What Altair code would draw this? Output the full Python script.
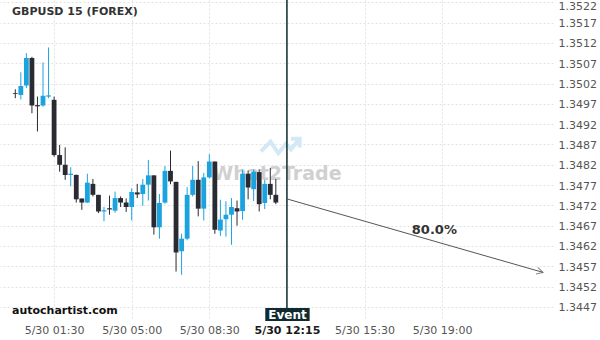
import altair as alt
import pandas as pd

# ---- data ----
idx = list(range(-7, 41))
opens = [1.34997, 1.34992, 1.35015, 1.35083, 1.34967, 1.34966, 1.34988, 1.34980,
         1.34844, 1.34820, 1.34795, 1.34795, 1.34737, 1.34727, 1.34773, 1.34746,
         1.34705, 1.34713, 1.34707, 1.34738, 1.34727, 1.34716, 1.34752, 1.34748,
         1.34771, 1.34794, 1.34666, 1.34727, 1.34805, 1.34778, 1.34607, 1.34638,
         1.34746, 1.34783, 1.34712, 1.34789, 1.34828, 1.34658, 1.34686, 1.34697,
         1.34713, 1.34706, 1.34798, 1.34760, 1.34802, 1.34726, 1.34773, 1.34746]
highs = [1.35006, 1.35048, 1.35095, 1.35086, 1.34988, 1.35072, 1.35109, 1.34988,
         1.34869, 1.34863, 1.34814, 1.34796, 1.34737, 1.34798, 1.34785, 1.34746,
         1.34716, 1.34744, 1.34754, 1.34742, 1.34737, 1.34762, 1.34773, 1.34785,
         1.34832, 1.34794, 1.34748, 1.34817, 1.34855, 1.34778, 1.34650, 1.34765,
         1.34817, 1.34829, 1.34800, 1.34846, 1.34828, 1.34734, 1.34730, 1.34738,
         1.34732, 1.34808, 1.34806, 1.34809, 1.34809, 1.34783, 1.34812, 1.34785]
lows = [1.34984, 1.34981, 1.35009, 1.34947, 1.34902, 1.34963, 1.34984, 1.34840,
        1.34803, 1.34783, 1.34767, 1.34727, 1.34709, 1.34726, 1.34742, 1.34701,
        1.34681, 1.34697, 1.34702, 1.34716, 1.34704, 1.34683, 1.34738, 1.34719,
        1.34732, 1.34648, 1.34638, 1.34724, 1.34772, 1.34557, 1.34549, 1.34634,
        1.34742, 1.34693, 1.34683, 1.34786, 1.34650, 1.34645, 1.34643, 1.34623,
        1.34670, 1.34685, 1.34735, 1.34731, 1.34705, 1.34711, 1.34735, 1.34723]
closes = [1.34995, 1.35014, 1.35083, 1.34966, 1.34964, 1.34990, 1.34991, 1.34844,
          1.34820, 1.34795, 1.34798, 1.34735, 1.34727, 1.34776, 1.34746, 1.34705,
          1.34708, 1.34710, 1.34738, 1.34727, 1.34716, 1.34753, 1.34747, 1.34771,
          1.34794, 1.34666, 1.34726, 1.34805, 1.34779, 1.34604, 1.34638, 1.34746,
          1.34783, 1.34712, 1.34789, 1.34828, 1.34660, 1.34685, 1.34697, 1.34716,
          1.34705, 1.34798, 1.34764, 1.34803, 1.34723, 1.34773, 1.34746, 1.34727]

tick_vals = [0, 14, 28, 42, 56, 70]
tick_labels = ["5/30 01:30", "5/30 05:00", "5/30 08:30", "5/30 12:15", "5/30 15:30", "5/30 19:00"]
y_ticks = [1.3447, 1.3452, 1.3457, 1.3462, 1.3467, 1.3472, 1.3477, 1.3482,
           1.3487, 1.3492, 1.3497, 1.3502, 1.3507, 1.3512, 1.3517, 1.3522]

event_x = 42
arrow_x = [42, 88.2]
arrow_y = [1.34736, 1.34555]
pct_x, pct_y, pct_text = 68.6, 1.3466, "80.0%"

BLUE = "#1ba3df"
DARK = "#2a2a33"
EVENT = "#0f2b30"

df = pd.DataFrame({"i": idx, "o": opens, "h": highs, "l": lows, "c": closes})
df["dir"] = ["up" if c > o else "down" for o, c in zip(opens, closes)]

xs = alt.Scale(domain=[-8.857, 89.1], nice=False, zero=False)
ys = alt.Scale(domain=[1.344377, 1.352259], nice=False, zero=False)

label_expr = " : ".join(
    f"datum.value == {v} ? '{t}'" for v, t in zip(tick_vals, tick_labels)
) + " : ''"

x_axis = alt.Axis(
    values=tick_vals, labelExpr=label_expr, title=None, domain=False, ticks=False,
    grid=True, gridDash=[2, 2], gridColor="#e2e2e2", labelFont="DejaVu Sans",
    labelFontSize=11, labelColor={"condition": {"test": f"datum.value == {event_x}", "value": "#1a1a1a"}, "value": "#555555"},
    labelFontWeight={"condition": {"test": f"datum.value == {event_x}", "value": "bold"}, "value": "normal"},
    labelPadding=4, labelOverlap=False, labelFlush=False,
)
y_axis = alt.Axis(
    values=y_ticks, format=".4f", orient="right", title=None, domain=False, ticks=False,
    grid=True, gridDash=[2, 2], gridColor="#e2e2e2", labelFont="DejaVu Sans",
    labelFontSize=11, labelColor="#555555", labelPadding=5, labelOverlap=False,
    labelFlush=False, labelSeparation=0,
    labelOffset={"condition": {"test": "datum.value > 1.35215", "value": 4}, "value": 1},
)


def X(field):
    return alt.X(field, scale=xs, axis=x_axis)


def Y(field):
    return alt.Y(field, scale=ys, axis=y_axis)


base = alt.Chart(df)

wm_df = pd.DataFrame({"x": [40.2], "y": [1.34798], "t": ["What2Trade"]})
watermark = alt.Chart(wm_df).mark_text(
    font="DejaVu Sans", fontSize=19, fontWeight="bold", color="#cccccc", opacity=0.9
).encode(x=X("x:Q"), y=Y("y:Q"), text="t:N")

logo_df = pd.DataFrame({"x": [40.8], "y": [1.34858]})
logo = alt.Chart(logo_df).mark_point(
    shape="M-1,0.1 L-0.5,-0.4 L-0.1,0.2 L0.3,-0.3 L0.55,0 L1,-0.55 M0.55,-0.55 L1,-0.55 L1,-0.1",
    filled=False, stroke="#cfe7f6", strokeWidth=4, size=1500, opacity=0.9,
).encode(x=X("x:Q"), y=Y("y:Q"))

color = alt.Color("dir:N", scale=alt.Scale(domain=["up", "down"], range=[BLUE, DARK]), legend=None)

wicks = base.mark_rule(strokeWidth=1).encode(
    x=X("i:Q"), y=Y("l:Q"), y2="h:Q", color=color
)
bodies = base.mark_bar(size=4.8).encode(
    x=X("i:Q"), y=Y("o:Q"), y2="c:Q", color=color
)

ev_rule = alt.Chart(pd.DataFrame({"x": [event_x]})).mark_rule(color=EVENT, strokeWidth=1.5).encode(
    x=X("x:Q"), y=alt.value(0), y2=alt.value(308)
)
ev_box = alt.Chart(pd.DataFrame({"x": [event_x - 3.9], "x2": [event_x + 4.1]})).mark_rect(color=EVENT).encode(
    x=X("x:Q"), x2="x2:Q", y=alt.value(308), y2=alt.value(321)
)
ev_text = alt.Chart(pd.DataFrame({"x": [event_x + 0.1], "t": ["Event"]})).mark_text(
    font="DejaVu Sans", fontSize=12, fontWeight="bold", color="white", baseline="middle"
).encode(x=X("x:Q"), y=alt.value(314.5), text="t:N")

arr_df = pd.DataFrame({"x": arrow_x, "y": arrow_y})
arrow = alt.Chart(arr_df).mark_line(color="#555555", strokeWidth=1).encode(
    x=X("x:Q"), y=Y("y:Q")
)
head = alt.Chart(arr_df.tail(1)).mark_point(
    shape="M-1,-0.55 L0,0 L-1,0.55", filled=False, stroke="#555555", strokeWidth=1,
    size=160, angle=16,
).encode(x=X("x:Q"), y=Y("y:Q"))

pct = alt.Chart(pd.DataFrame({"x": [pct_x], "y": [pct_y], "t": [pct_text]})).mark_text(
    font="DejaVu Sans", fontSize=13, fontWeight="bold", color="#333333"
).encode(x=X("x:Q"), y=Y("y:Q"), text="t:N")

title = alt.Chart(pd.DataFrame({"t": ["GBPUSD 15 (FOREX)"]})).mark_text(
    font="DejaVu Sans", fontSize=11, fontWeight="bold", color="#333333", align="left", baseline="middle"
).encode(x=alt.value(12), y=alt.value(12), text="t:N")

brand = alt.Chart(pd.DataFrame({"t": ["autochartist.com"]})).mark_text(
    font="DejaVu Sans", fontSize=11, fontWeight="bold", color="#111111", align="left", baseline="middle"
).encode(x=alt.value(12), y=alt.value(311), text="t:N")

chart = alt.layer(
    watermark, logo, wicks, bodies, ev_rule, arrow, head, pct, ev_box, ev_text, title, brand
).properties(
    width=553, height=320,
    autosize=alt.AutoSizeParams(type="none"),
    padding={"left": 0, "top": 0, "right": 47, "bottom": 20},
    background="white",
).configure_view(strokeWidth=0).configure_axis(labelOverlap=False)

chart.save("out.html", embed_options={"renderer": "svg", "actions": False})
